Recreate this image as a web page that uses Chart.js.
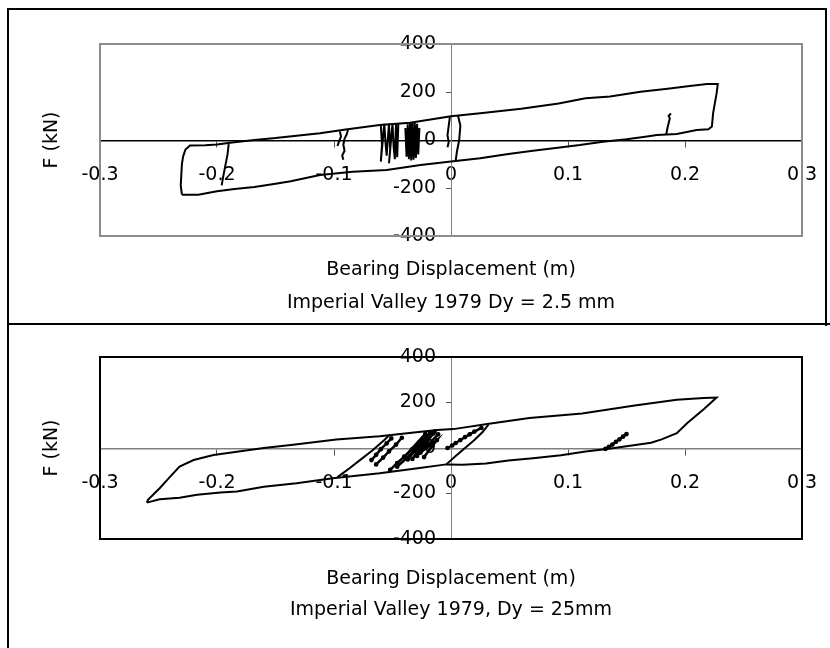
<!DOCTYPE html>
<html>
<head>
<meta charset="utf-8">
<title>Bearing hysteresis - Imperial Valley 1979</title>
<script src="https://cdn.jsdelivr.net/npm/chart.js@4.4.1/dist/chart.umd.min.js"></script>
<style>
  body { margin: 0; background: #fff; }
  #page { position: relative; width: 830px; height: 648px; overflow: hidden; }
  canvas { position: absolute; left: 0; }
  #c1 { top: 0; }
  #c2 { top: 324px; }
  .frame { position: absolute; border-color: #000; border-style: solid; }
  #f1 { left: 7px; top: 8px; width: 816px; height: 316px; border-width: 2px 2px 0 2px; }
  #sep { left: 7px; top: 323px; width: 823px; height: 0; border-width: 2px 0 0 0; }
  #f2 { left: 7px; top: 324px; width: 0; height: 324px; border-width: 0 0 0 2px; }
</style>
</head>
<body>
<div id="page">
  <div class="frame" id="f1"></div>
  <div class="frame" id="sep"></div>
  <div class="frame" id="f2"></div>
  <canvas id="c1" width="830" height="324"></canvas>
  <canvas id="c2" width="830" height="324"></canvas>
</div>
<script>
// axes
var xTicks = [-0.3, -0.2, -0.1, 0, 0.1, 0.2, 0.3];
var yTicks = [-400, -200, 0, 200, 400];

// ---- Dy = 2.5 mm (top) ----
// main loop: lower branch to the right, up, upper branch back to the left
var topLoopX = [-0.230, -0.216, -0.200, -0.185, -0.168, -0.150, -0.137, -0.112, -0.084, -0.055, -0.026, 0, 0.025, 0.049, 0.070, 0.093, 0.110, 0.130, 0.150, 0.166, 0.176, 0.193, 0.210, 0.220, 0.223, 0.224, 0.227, 0.228,
                0.219, 0.204, 0.187, 0.162, 0.136, 0.115, 0.092, 0.060, 0.025, 0, -0.035, -0.061, -0.090, -0.112, -0.132, -0.150, -0.168, -0.187, -0.200, -0.210, -0.223, -0.227, -0.229, -0.230, -0.231, -0.230];
var topLoopY = [-228, -228, -214, -204, -196, -182, -172, -146, -132, -125, -104, -90, -76, -58, -45, -31, -21, -7, 3, 14, 21, 25, 42, 45, 56, 111, 194, 233,
                233, 225, 215, 201, 181, 174, 152, 130, 111, 99, 72, 62, 44, 28, 18, 8, 0, -10, -19, -22, -23, -40, -70, -100, -189, -228];
var topDrop1X = [-0.190, -0.191, -0.193, -0.195, -0.196];
var topDrop1Y = [-17, -60, -110, -160, -189];
var topDrop2X = [-0.088, -0.089, -0.091, -0.092, -0.091, -0.093, -0.092];
var topDrop2Y = [44, 25, 5, -20, -45, -65, -82];
var topDrop3X = [-0.095, -0.094, -0.096, -0.097];
var topDrop3Y = [36, 15, -10, -25];
var topBundleX = [-0.060, -0.059, -0.060, -0.057, -0.056, -0.055, -0.053, -0.052, -0.053, -0.050, -0.049, -0.048, -0.047, -0.046, -0.045];
var topBundleY = [66, -20, -90, 67, -10, -65, 68, -40, -97, 68, -30, -80, 69, -72, 70];
var topBlobX = [-0.039, -0.038, -0.037, -0.036, -0.035, -0.034, -0.033, -0.032, -0.031, -0.030, -0.029, -0.028, -0.027, -0.028, -0.030, -0.032, -0.034, -0.036, -0.038];
var topBlobY = [50, -70, 65, -80, 70, -85, 72, -82, 72, -75, 68, -60, 50, -50, 60, -78, 70, -75, 40];
var topZeroAX = [0.006, 0.008, 0.007, 0.005, 0.004];
var topZeroAY = [101, 60, 0, -50, -86];
var topZeroBX = [-0.001, -0.003, -0.002, -0.003];
var topZeroBY = [95, 20, -10, -30];
var topSpikeX = [0.184, 0.185, 0.186, 0.187, 0.186, 0.188];
var topSpikeY = [24, 50, 70, 90, 100, 111];

// ---- Dy = 25 mm (bottom) ----
var botLoopX = [-0.260, -0.249, -0.232, -0.217, -0.197, -0.183, -0.160, -0.132, -0.101, -0.061, -0.030, -0.004, 0.010, 0.030, 0.049, 0.070, 0.094, 0.115, 0.135, 0.150, 0.171, 0.180, 0.193, 0.202, 0.216, 0.227,
                0.216, 0.193, 0.157, 0.112, 0.067, 0.031, 0.002, -0.012, -0.061, -0.098, -0.135, -0.160, -0.183, -0.203, -0.220, -0.232, -0.240, -0.249, -0.259, -0.260];
var botLoopY = [-240, -225, -219, -206, -196, -191, -170, -155, -133, -111, -90, -72, -74, -68, -55, -45, -32, -15, -3, 8, 23, 38, 65, 110, 170, 222,
                220, 212, 187, 152, 132, 106, 83, 79, 52, 37, 14, 0, -16, -31, -53, -82, -126, -177, -228, -240];
var botInnerLX = [-0.097, -0.087, -0.077, -0.067, -0.057, -0.053];
var botInnerLY = [-128, -90, -50, -10, 35, 55];
var botInnerRX = [-0.004, 0.004, 0.012, 0.020, 0.027, 0.032];
var botInnerRY = [-72, -35, 0, 35, 70, 103];
var botStreak1X = [-0.068, -0.064, -0.060, -0.055, -0.051];
var botStreak1Y = [-53, -30, -5, 20, 42];
var botStreak2X = [-0.064, -0.058, -0.053, -0.047, -0.042];
var botStreak2Y = [-72, -42, -15, 15, 45];
var botStreak3X = [-0.052, -0.046, -0.040, -0.033, -0.027];
var botStreak3Y = [-96, -66, -38, -5, 25];
var botStreak4X = [-0.046, -0.038, -0.031, -0.023, -0.015];
var botStreak4Y = [-82, -45, -10, 28, 64];
var botBlobX = [-0.040, -0.022, -0.037, -0.018, -0.033, -0.014, -0.029, -0.011, -0.026, -0.012, -0.023, -0.016];
var botBlobY = [-40, 62, -50, 68, -48, 72, -35, 60, -20, 35, -40, 10];
var botStreak5X = [-0.003, 0.001, 0.004, 0.008, 0.012, 0.016, 0.020, 0.026];
var botStreak5Y = [0, 11, 22, 35, 48, 60, 72, 88];
var botStreak6X = [0.132, 0.135, 0.138, 0.141, 0.144, 0.147, 0.150];
var botStreak6Y = [-4, 5, 15, 27, 38, 50, 61];

Chart.defaults.font.family = "'DejaVu Sans', sans-serif";
Chart.defaults.color = '#000';

function path(xs, ys, dots) {
    return {
        data: xs.map(function (x, i) { return { x: x, y: ys[i] }; }),
        showLine: true,
        borderColor: '#000',
        backgroundColor: '#000',
        borderWidth: dots ? 2.5 : 2,
        pointRadius: dots ? 1.1 : 0,
        tension: 0
    };
}

// box round the plot area
var plotFrame = {
    id: 'plotFrame',
    beforeDatasetsDraw: function (chart, args, opts) {
        var a = chart.chartArea, c = chart.ctx;
        c.save();
        c.strokeStyle = opts.color;
        c.lineWidth = 2;
        c.strokeRect(a.left, a.top, a.right - a.left, a.bottom - a.top);
        c.restore();
    }
};

// centred axes should not take room from the plot area
function noRoom(s) {
    if (s.isHorizontal()) s.height = 0; else s.width = 0;
    s.paddingLeft = 0; s.paddingRight = 0; s.paddingTop = 0; s.paddingBottom = 0;
}

function taoBieuDo(id, datasets, o) {
    new Chart(document.getElementById(id), {
        type: 'scatter',
        data: { datasets: datasets },
        plugins: [plotFrame],
        options: {
            responsive: false,
            animation: false,
            devicePixelRatio: 1,
            events: [],
            layout: { padding: { left: 7, right: 28, top: o.top, bottom: o.bottom } },
            scales: {
                x: {
                    type: 'linear', position: 'center', min: -0.3, max: 0.3,
                    afterFit: noRoom,
                    afterBuildTicks: function (s) { s.ticks = xTicks.map(function (v) { return { value: v }; }); },
                    ticks: {
                        autoSkip: false, maxRotation: 0, padding: 18,
                        font: { size: 19 },
                        callback: function (v) { return String(Number(v.toFixed(1))); }
                    },
                    grid: { drawOnChartArea: false, drawTicks: true, tickLength: 6, color: '#555' },
                    border: { display: true, color: o.xAxisColor, width: 1.5 }
                },
                y: {
                    type: 'linear', position: 'center', min: -400, max: 400,
                    afterFit: noRoom,
                    afterBuildTicks: function (s) { s.ticks = yTicks.map(function (v) { return { value: v }; }); },
                    ticks: { padding: 10, font: { size: 19 } },
                    grid: { drawOnChartArea: false, drawTicks: true, tickLength: 5, color: '#555' },
                    border: { display: true, color: '#808080', width: 1 }
                }
            },
            plugins: {
                legend: { display: false },
                tooltip: { enabled: false },
                plotFrame: { color: o.frameColor },
                title: {
                    display: true, position: 'bottom', fullSize: false,
                    text: ['Bearing Displacement (m)', o.caption],
                    font: { size: 19, weight: 'normal', lineHeight: o.lineHeight },
                    padding: { top: o.titleGap, bottom: 0 }
                },
                subtitle: {
                    display: true, position: 'left', fullSize: false,
                    text: 'F (kN)',
                    font: { size: 19, weight: 'normal', lineHeight: 1.2 },
                    padding: { top: 33.6, bottom: 36.6 }
                }
            }
        }
    });
}

taoBieuDo('c1', [
    path(topLoopX, topLoopY),
    path(topDrop1X, topDrop1Y),
    path(topDrop2X, topDrop2Y),
    path(topDrop3X, topDrop3Y),
    path(topBundleX, topBundleY),
    path(topBlobX, topBlobY),
    path(topZeroAX, topZeroAY),
    path(topZeroBX, topZeroBY),
    path(topSpikeX, topSpikeY)
], {
    top: 44, bottom: 4.5, titleGap: 17.5, lineHeight: 33 / 19,
    caption: 'Imperial Valley 1979 Dy = 2.5 mm',
    xAxisColor: '#000', frameColor: '#8c8c8c'
});

taoBieuDo('c2', [
    path(botLoopX, botLoopY),
    path(botInnerLX, botInnerLY),
    path(botInnerRX, botInnerRY),
    path(botStreak1X, botStreak1Y, true),
    path(botStreak2X, botStreak2Y, true),
    path(botStreak3X, botStreak3Y, true),
    path(botStreak4X, botStreak4Y, true),
    path(botBlobX, botBlobY, true),
    path(botStreak5X, botStreak5Y, true),
    path(botStreak6X, botStreak6Y, true)
], {
    top: 33, bottom: 22.5, titleGap: 24.5, lineHeight: 31 / 19,
    caption: 'Imperial Valley 1979, Dy = 25mm',
    xAxisColor: '#808080', frameColor: '#000'
});
</script>
</body>
</html>
